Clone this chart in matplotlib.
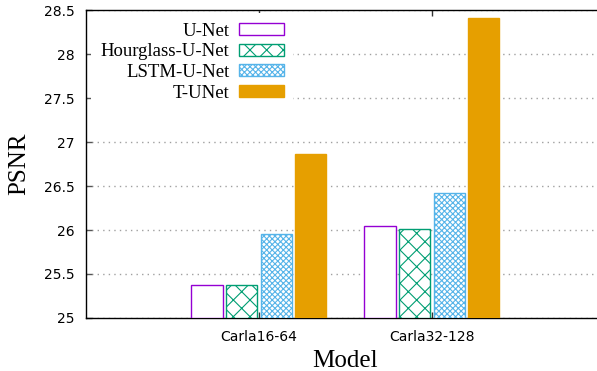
import numpy as np
import matplotlib
matplotlib.use('Agg')
import matplotlib.pyplot as plt

# ----------------------------------------------------------------
# data
# ----------------------------------------------------------------
datasets = ['Carla16-64', 'Carla32-128']
models = ['U-Net', 'Hourglass-U-Net', 'LSTM-U-Net', 'T-UNet']
psnr_unet = [25.37, 26.04]
psnr_hourglass = [25.37, 26.01]
psnr_lstm = [25.96, 26.42]
psnr_tunet = [26.86, 28.41]
yticks = [25, 25.5, 26, 26.5, 27, 27.5, 28, 28.5]

# gnuplot-like palette / fills
colors = ['#9400d3', '#009e73', '#56b4e9', '#e69f00']
hatches = [None, 'xx', 'xxxxxx', None]
filled = [False, False, False, True]

plt.rcParams['hatch.linewidth'] = 0.8

fig = plt.figure(figsize=(5.97, 3.71), dpi=100)
ax = fig.add_axes([0.144, 0.1429, 0.869, 0.830])

series = [psnr_unet, psnr_hourglass, psnr_lstm, psnr_tunet]
x = np.arange(len(datasets))
step = 0.2
width = 0.18
offsets = (np.arange(len(models)) - (len(models) - 1) / 2) * step

for i, (name, vals) in enumerate(zip(models, series)):
    c = colors[i]
    ax.bar(x + offsets[i], np.array(vals) - 25, bottom=25, width=width,
           facecolor=c if filled[i] else 'white', edgecolor=c,
           hatch=hatches[i], linewidth=1.0, label=name, zorder=3)

ax.set_xlim(-1, 2)
ax.set_ylim(25, 28.5)
ax.set_yticks(yticks)
ax.set_yticklabels([f'{v:g}' for v in yticks])
ax.set_xticks(x)
ax.set_xticklabels(datasets)

ax.yaxis.grid(True, linestyle=(0, (1, 3)), color='#a0a0a0', linewidth=1.0, zorder=0)
ax.set_axisbelow(True)

for s in ['left', 'top', 'bottom']:
    ax.spines[s].set_linewidth(1.0)
    ax.spines[s].set_color('black')
ax.spines['right'].set_visible(False)

ax.tick_params(axis='y', direction='in', length=4, width=1, color='#555555',
               labelsize=10, pad=8, right=False)
ax.tick_params(axis='x', direction='in', length=4, width=1, color='#333333',
               labelsize=10, pad=9, top=True)

ax.set_ylabel('PSNR', fontsize=18, family='Liberation Serif', labelpad=10)
ax.set_xlabel('Model', fontsize=18, family='Liberation Serif', labelpad=4)

leg = ax.legend(loc='upper right', bbox_to_anchor=(0.399, 0.99),
                markerfirst=False, frameon=True, fancybox=False,
                facecolor='white', edgecolor='none', framealpha=1.0,
                prop={'family': 'Liberation Serif', 'size': 13.5},
                handlelength=2.4, handleheight=0.6, handletextpad=0.5,
                labelspacing=0.2, borderpad=0.5, borderaxespad=0)
for t in leg.get_texts():
    t.set_ha('right')
leg.set_zorder(5)

plt.savefig('out.png', dpi=100)
plt.close()
